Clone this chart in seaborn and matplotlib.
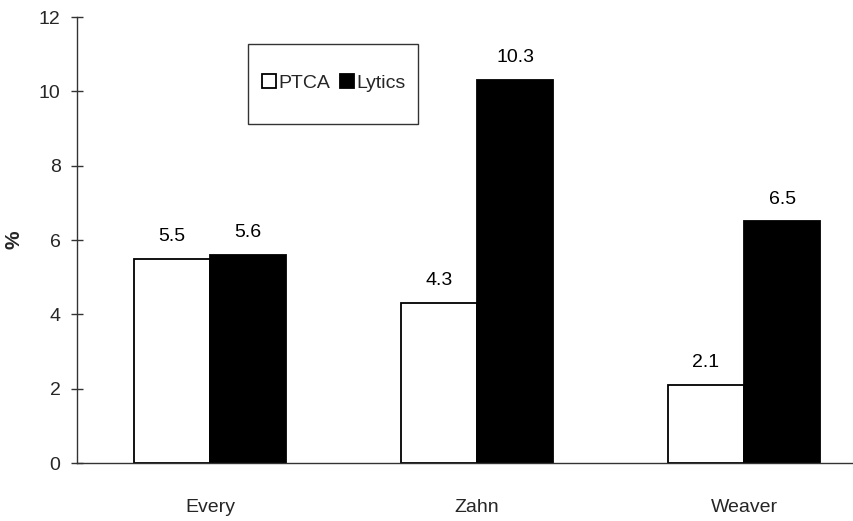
import matplotlib
matplotlib.use("Agg")
import matplotlib.pyplot as plt
import seaborn as sns
import pandas as pd
from matplotlib.patches import Rectangle

studies = ["Every", "Zahn", "Weaver"]
ptca = [5.5, 4.3, 2.1]
lytics = [5.6, 10.3, 6.5]
series = ["PTCA", "Lytics"]
y_ticks = [0, 2, 4, 6, 8, 10, 12]

df = pd.DataFrame({
    "study": studies * 2,
    "value": ptca + lytics,
    "therapy": ["PTCA"] * len(studies) + ["Lytics"] * len(studies),
})

sns.set_theme(style="white")
plt.rcParams["font.family"] = ["Liberation Sans", "DejaVu Sans"]
FS = 14

AX_L, AX_W = 0.0896, 0.938
fig = plt.figure(figsize=(8.54, 5.21), dpi=100)
ax = fig.add_axes([AX_L, 0.1113, AX_W, 0.856])

sns.barplot(data=df, x="study", y="value", hue="therapy", order=studies,
            hue_order=series, palette={"PTCA": "white", "Lytics": "black"},
            edgecolor="black", linewidth=1.3, width=0.57, gap=0,
            errorbar=None, legend=False, ax=ax)

for cont in ax.containers:
    for bar in cont:
        h = bar.get_height()
        ax.annotate(f"{h:.1f}", (bar.get_x() + bar.get_width() / 2, h),
                    xytext=(0, 10), textcoords="offset points",
                    ha="center", va="bottom", fontsize=FS, color="black")

ax.set_xlim(-0.5, 2.5)
ax.set_ylim(0, 12)
ax.set_yticks(y_ticks)
ax.set_yticklabels([str(t) for t in y_ticks], fontsize=FS)
ax.tick_params(axis="y", direction="inout", length=9, width=1, color="#333333", pad=7, left=True)
ax.tick_params(axis="x", length=0, pad=26, labelsize=FS)
ax.set_xlabel("")
ax.set_ylabel("%", fontsize=FS + 1, fontweight="bold")
ax.yaxis.set_label_coords((24 / 854 - AX_L) / AX_W, 0.5)

for side in ["top", "right"]:
    ax.spines[side].set_visible(False)
for side in ["left", "bottom"]:
    ax.spines[side].set_color("#333333")
    ax.spines[side].set_linewidth(1.0)

# legend box with generous vertical padding
box = Rectangle((248 / 854, 1 - 124 / 521), 170 / 854, 80 / 521,
                transform=fig.transFigure, fill=False, edgecolor="#333333",
                linewidth=1.0, zorder=5)
fig.patches.append(box)
handles = [Rectangle((0, 0), 1, 1, facecolor=c, edgecolor="black", linewidth=1.3)
           for c in ["white", "black"]]
fig.legend(handles, series, ncol=2, loc="center",
           bbox_to_anchor=(334 / 854, 1 - 83 / 521), frameon=False,
           handlelength=0.7, handleheight=0.7, handletextpad=0.15,
           columnspacing=0.5, fontsize=FS, borderpad=0, borderaxespad=0)

fig.savefig("out.png", dpi=100)
